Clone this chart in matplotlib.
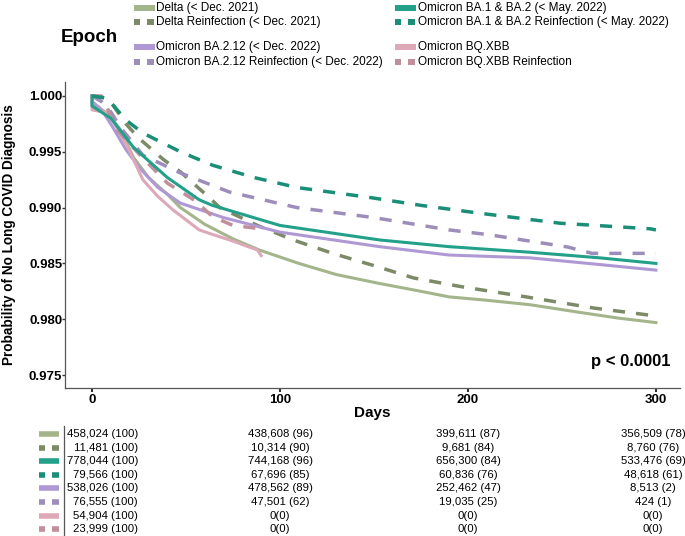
import numpy as np
import matplotlib
matplotlib.use("Agg")
import matplotlib.pyplot as plt

plt.rcParams['font.family'] = ['Liberation Sans', 'DejaVu Sans']

# ---- survival curves (days, probability) ----
delta_days = [0, 0, 8, 15, 22, 30, 40, 47, 60, 75, 89, 110, 130, 153, 175, 190, 210, 233, 260, 280, 300]
delta_vals = [1.0, 0.9992, 0.9985, 0.9970, 0.9945, 0.9927, 0.9912, 0.9900, 0.9885, 0.9872, 0.9862,
              0.9850, 0.9840, 0.9832, 0.9825, 0.9820, 0.9817, 0.9813, 0.9806, 0.9801, 0.9797]

delta_re_days = [0, 8, 11, 18, 25, 38, 47, 61, 68, 88, 107, 128, 150, 171, 197, 231, 267, 295, 300]
delta_re_vals = [1.0, 0.9998, 0.9992, 0.9975, 0.9962, 0.9943, 0.9932, 0.9911, 0.9900, 0.9884,
                 0.9871, 0.9859, 0.9848, 0.9837, 0.9829, 0.9820, 0.9810, 0.9804, 0.9803]

ba12_days = [0, 0, 10, 22, 40, 57, 64, 100, 153, 190, 233, 270, 300]
ba12_vals = [1.0, 0.9991, 0.9980, 0.9954, 0.9927, 0.9907, 0.9902, 0.9884, 0.9871, 0.9865,
             0.9860, 0.9855, 0.9850]

ba12_re_days = [0, 8, 18, 27, 47, 64, 86, 109, 148, 175, 206, 249, 297, 300]
ba12_re_vals = [1.0, 0.9998, 0.99785, 0.99668, 0.9950, 0.9938, 0.9927, 0.9918, 0.9909, 0.9902,
                0.9895, 0.9886, 0.9881, 0.9880]

ba212_days = [0, 0, 5, 11, 18, 25, 35, 47, 70, 100, 153, 190, 233, 270, 300]
ba212_vals = [1.0, 0.9995, 0.9988, 0.9972, 0.9952, 0.9936, 0.9918, 0.9904, 0.9891, 0.9878,
              0.9865, 0.98575, 0.9855, 0.9849, 0.9844]

ba212_re_days = [0, 5, 10, 15, 27, 47, 73, 109, 150, 190, 212, 253, 266, 300]
ba212_re_vals = [1.0, 0.9995, 0.99857, 0.9972, 0.9947, 0.9931, 0.9914, 0.9900, 0.9891, 0.9880,
                 0.98755, 0.98647, 0.9859, 0.9859]

bq_days = [0, 0, 8, 12, 19, 27, 35, 43, 57, 64, 75, 83, 88, 90]
bq_vals = [1.0, 0.99875, 0.9985, 0.9975, 0.9954, 0.9925, 0.9910, 0.9898, 0.9880, 0.9876,
           0.9870, 0.9865, 0.9862, 0.9857]

bq_re_days = [0, 5, 8, 12, 25, 40, 55, 64, 75, 90]
bq_re_vals = [1.0, 1.0, 0.9990, 0.9972, 0.9948, 0.9922, 0.9906, 0.9892, 0.9884, 0.9881]

labels = ["Delta (< Dec. 2021)", "Delta Reinfection (< Dec. 2021)",
          "Omicron BA.1 & BA.2 (< May. 2022)", "Omicron BA.1 & BA.2 Reinfection (< May. 2022)",
          "Omicron BA.2.12 (< Dec. 2022)", "Omicron BA.2.12 Reinfection (< Dec. 2022)",
          "Omicron BQ.XBB", "Omicron BQ.XBB Reinfection"]
colors = ["#a4b58b", "#7d8a67", "#22a08a", "#1b8e78", "#ae99d5", "#9c8dba", "#dda8b7", "#c18e9c"]
dashed = [False, True, False, True, False, True, False, True]
curves = [(delta_days, delta_vals), (delta_re_days, delta_re_vals),
          (ba12_days, ba12_vals), (ba12_re_days, ba12_re_vals),
          (ba212_days, ba212_vals), (ba212_re_days, ba212_re_vals),
          (bq_days, bq_vals), (bq_re_days, bq_re_vals)]

# ---- numbers at risk ----
risk_times = [0, 100, 200, 300]
risk_table = [
    ["458,024 (100)", "438,608 (96)", "399,611 (87)", "356,509 (78)"],
    ["11,481 (100)", "10,314 (90)", "9,681 (84)", "8,760 (76)"],
    ["778,044 (100)", "744,168 (96)", "656,300 (84)", "533,476 (69)"],
    ["79,566 (100)", "67,696 (85)", "60,836 (76)", "48,618 (61)"],
    ["538,026 (100)", "478,562 (89)", "252,462 (47)", "8,513 (2)"],
    ["76,555 (100)", "47,501 (62)", "19,035 (25)", "424 (1)"],
    ["54,904 (100)", "0(0)", "0(0)", "0(0)"],
    ["23,999 (100)", "0(0)", "0(0)", "0(0)"],
]

W, H = 685, 536
fig = plt.figure(figsize=(W / 100, H / 100), dpi=100)

# main plot, placed in pixel terms
x0, x1, ytop, ybot = 65, 680, 82, 388
ax = fig.add_axes([x0 / W, 1 - ybot / H, (x1 - x0) / W, (ybot - ytop) / H])
order = [0, 1, 4, 5, 6, 7, 2, 3]
for i in order:
    d, v = curves[i]
    if dashed[i]:
        ax.plot(d, v, color=colors[i], lw=2.5, linestyle=(0, (3.5, 3.2)), zorder=3)
    else:
        ax.plot(d, v, color=colors[i], lw=2.2, zorder=3)

ax.set_xlim(-14.4, 312.8)
ax.set_ylim(0.97384, 1.00125)
ax.set_xticks([0, 100, 200, 300])
ax.set_yticks([0.975, 0.980, 0.985, 0.990, 0.995, 1.000])
ax.set_yticklabels(["0.975", "0.980", "0.985", "0.990", "0.995", "1.000"])
for s in ["top", "right"]:
    ax.spines[s].set_visible(False)
for s in ["left", "bottom"]:
    ax.spines[s].set_color("#555555")
    ax.spines[s].set_linewidth(0.9)
ax.tick_params(axis="x", length=3, width=1.5, color="#333333", pad=1,
               labelsize=9.5)
ax.tick_params(axis="y", length=2, width=1.0, color="#333333", pad=0,
               labelsize=9.5)
for t in ax.get_xticklabels() + ax.get_yticklabels():
    t.set_fontweight("bold")
ax.set_ylabel("Probability of No Long COVID Diagnosis", fontsize=9.8,
              fontweight="bold")
ax.yaxis.set_label_coords(-49 / (x1 - x0), 0.5)
ax.text(0.985, 0.085, "p < 0.0001", transform=ax.transAxes, ha="right",
        va="center", fontsize=12, fontweight="bold")

# overlay in pixel coordinates for legend, table keys and labels
ov = fig.add_axes([0, 0, 1, 1], facecolor="none")
ov.set_xlim(0, W)
ov.set_ylim(H, 0)
ov.axis("off")

ov.text((x0 + x1) / 2, 413, "Days", ha="center", va="center", fontsize=11, fontweight="bold")
ov.text(89, 37, "Epoch", ha="center", va="center", fontsize=13.5, fontweight="bold")


def draw_key(xl, y, width, color, dash, lw):
    if dash:
        ov.plot([xl, xl + 6.5], [y, y], color=color, lw=lw, solid_capstyle="butt")
        ov.plot([xl + 13.5, xl + 20], [y, y], color=color, lw=lw, solid_capstyle="butt")
    else:
        ov.plot([xl, xl + width], [y, y], color=color, lw=lw, solid_capstyle="butt")


leg_rows = [8, 22, 47, 62]
leg_cols = [(134, 156), (395, 418)]
leg_pos = [(0, 0), (0, 1), (1, 0), (1, 1), (0, 2), (0, 3), (1, 2), (1, 3)]
for i, (c, r) in enumerate(leg_pos):
    kx, tx = leg_cols[c]
    y = leg_rows[r]
    draw_key(kx, y, 21, colors[i], dashed[i], 4.3)
    ov.text(tx, y, labels[i], ha="left", va="center", fontsize=8.5)

# risk table
row_y = [434 + 13.6 * k for k in range(8)]
tab = fig.add_axes([x0 / W, 0, (x1 - x0) / W, 1], facecolor="none")
tab.set_xlim(ax.get_xlim())
tab.set_ylim(H, 0)
tab.axis("off")
for k, row in enumerate(risk_table):
    draw_key(39, row_y[k], 20, colors[k], dashed[k], 4.0)
    for j, t in enumerate(risk_times):
        if j == 0:
            tab.text(24.5, row_y[k], row[j], ha="right", va="center", fontsize=8.2)
        elif j == 3:
            tab.text(t - 1.5, row_y[k], row[j], ha="center", va="center", fontsize=8.2)
        else:
            tab.text(t, row_y[k], row[j], ha="center", va="center", fontsize=8.2)
ov.plot([64.5, 64.5], [426, 536], color="#555555", lw=0.9)

fig.savefig("out.png", dpi=100)
